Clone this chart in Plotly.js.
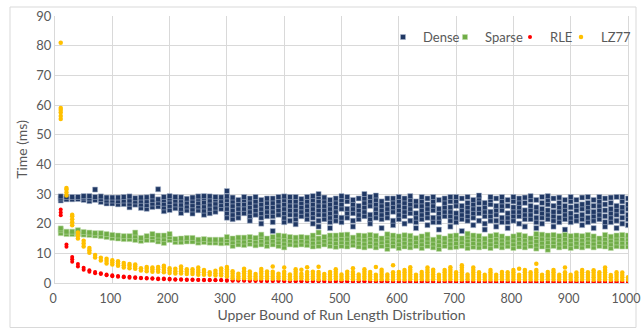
<!DOCTYPE html>
<html>
<head>
<meta charset="utf-8">
<script src="https://cdn.plot.ly/plotly-3.0.1.min.js"></script>
<style>html,body{margin:0;padding:0;background:#fff;}#chart{width:641px;height:329px;}</style>
</head>
<body>
<div id="chart"></div>
<script>
const xs = [10,20,30,40,50,60,70,80,90,100,110,120,130,140,150,160,170,180,190,200,210,220,230,240,250,260,270,280,290,300,310,320,330,340,350,360,370,380,390,400,410,420,430,440,450,460,470,480,490,500,510,520,530,540,550,560,570,580,590,600,610,620,630,640,650,660,670,680,690,700,710,720,730,740,750,760,770,780,790,800,810,820,830,840,850,860,870,880,890,900,910,920,930,940,950,960,970,980,990,1000];

const dense = [
[27.8,28.5,29.2],[28.2,29],[28.2,29],[28.3,29],[28,28.8,29.3],[27.6,28.5,29.3],[28,29,31.5],[27.3,28.3,29.2],[26.8,27.8,28.8],[26.8,27.8,28.8],
[26.5,27.6,28.8],[26.6,27.8,29],[25.5,26.7,27.8,29.2],[26.4,27.5,28.6],[25.3,26.5,27.7,28.8],[25,26.3,27.6,28.9],[25.6,26.8,28,29.2],[25.8,27,28.2,31.6],[24.2,25.5,26.7,28,29],[24.6,26,27.3,28.5,29.3],
[25.2,26.5,27.8,29],[23.6,25,26.4,27.8,28.9],[24.5,25.8,27.1,28.4],[23.4,24.8,26.2,27.6,28.8],[24.5,25.8,27,28.4,29.2],[23,24.4,25.8,27.2,28.7,29.3],[23.5,25,26.4,27.8,29.2],[24,25.4,26.8,28.2,29],[25,26.3,27.6,28.9],[22,23.5,25,26.5,28,29.2,31],
[21.5,23,24.5,26,27.5,28.8],[22,23.5,25,26.5,28],[23.5,25,26.5,28,29],[21,22.5,24,25.5,27,28.5],[23,24.5,26,27.5,29],[20,22,23.5,25,26.5,28],[22.5,24,25.5,27,28.5],[17.5,20.5,22.5,24,25.5,27,28.5],[23,24.5,26,27.5,29],[20.5,22,23.5,25,26.5,28,29.2],
[21,23,24.5,26,27.5,29],[19.8,21.5,23,24.5,26,27.5,29],[22.5,24,25.5,27,28.3],[21.5,23,24.5,26,27.5,29],[20,22,23.5,25,26.5,28,29.3],[19,21,23,24.5,26,27.5,29,30],[21.5,23,24.5,26,27.5,28.8],[18.5,20.5,22,23.5,25,26.5,28],[21,22.5,24,25.5,27,28.5],[20.5,22,25,26.5,28,29.3],
[22,23.5,25,27.5,29],[19,21,23.5,25,26.5,28],[21.5,23,24.5,26,28.5],[22.5,24,25.5,27,28.5,30],[20,21.5,23,26,27.5,29],[22,23.5,25,26.5,28,29.5],[18.5,21.5,23,24.5,26,27.5],[22,23.5,25,26.5,28.5],[19.5,21,24,25.5,27,28.5],[21.5,23,24.5,26,27.5,29],
[20,22.5,24,25.5,27,28.5],[21,23.5,25,26.5,28,29.3],[18.5,20.5,22,23.5,26,27.5],[21.5,23,24.5,26,27.5,29],[19.5,22,23.5,25,26.5,28.5],[20.5,22,24.5,26,27.5,29],[18,20.5,22,23.5,25,28],[22.5,24,25.5,27,28.5],[19,21,22.5,24,25.5,27.5,29],[20.5,22,23.5,26,27.5,29],
[17.5,21.5,23,24.5,26,28.5],[21,22.5,24,25.5,27,29],[19.5,22,23.5,25,26.5,28],[21,23.5,25,27,28.5,29.5],[18,20,22.5,24,25.5,27],[21,22.5,24,26.5,28,29],[19,21,23,24.5,26,28.5],[20.5,22,24.5,26,27.5,29],[18.5,20.5,22,23.5,26,28],[21,22.5,24,25.5,27.5,29],
[20,22.5,24,25.5,27,28.5],[19,21.5,23,24.5,27,28.8],[21.5,23,24.5,26,28,29.3],[18.5,20.5,22,24,25.5,28],[20,22,23.5,25,27,29],[21.5,23,24.5,26.5,28,29.3],[19,21,22.5,24,26,28.5],[20.5,22,24,25.5,27,28.8],[18,21.5,23,24.5,26,28],[20.5,22,23.5,25.5,27.5,29],
[21,22.5,24.5,26,28],[19.5,21.5,23,25,26.5,28.8],[20.5,22,24,25.5,27,29],[18.5,21,22.5,24,26,28],[21.5,23,24.5,26,27.5,29],[19,20.5,22.5,24.5,26.5,28.5],[20.5,22,23.5,25,27,28.8],[18.5,21,23,24.5,26,29],[20,22,24,25.5,27.5,29],[19.5,21.5,23,25,26.5,28.5]
];

const sparse = [
[16.8,17.8,18.4],[16.5,17.3],[16.5,17.3],[16.5,17.3,17.8],[16.3,17.2],[16.2,17],[16,16.8],[15.8,16.8],[15.5,16.5],[15.2,16.2],
[15,16],[14.8,15.8],[14.8,15.8],[14.5,15.8,17],[14.2,15.2],[14.5,15.8],[14.5,15.5,16.5],[14,15,16],[13.5,14.8,16],[14.5,15.5,16.5],
[13.8,14.8],[13.8,15],[14,15.2],[14,15.2],[13.6,14.6],[13.8,14.8],[13.6,14.6],[13.6,14.6],[13.4,14.6],[13.5,14.5,15.5],
[12.5,13.8,15],[13,14.3,15.3],[12.8,14,15.3],[13.2,14.5,15.5],[12.7,14,15.2],[13,14.3,15.5,16.3],[12.5,13.8,15],[13,14.3,15.5],[12.5,13.8,15,16],[12,13.3,14.6,15.8],
[13,14.3,15.5],[12.8,14,15.3],[13,14.3,15.5],[12.8,14,15.3],[12.3,13.6,14.9,16],[12.5,13.8,15,17],[13,14.3,15.5],[12.5,13.8,15,16],[12.2,13.5,14.8,16],[12.5,13.8,15,16.2],
[12.3,13.6,14.9,16.3],[12.8,14,15.3],[12.3,13.6,14.9,16],[12,13.3,14.6,15.9],[12.5,13.8,15,16.2],[12,13.3,14.6,15.9],[12.5,13.8,15],[11.5,12.8,14.1,15.4,16.4],[12.5,13.8,15,16],[11.8,13.1,14.4,15.7],
[12.3,13.6,14.9,16.1],[12,13.3,14.6,15.9],[12.5,13.8,15.1],[11.8,13.1,14.4,15.7],[12.5,13.8,15,16.3],[12,13.3,14.6],[11.5,12.8,14.1,15.4],[12.5,13.8,15],[12,13.3,14.6,15.8],[12.2,13.5,14.8,16],
[12.5,13.8,15],[11.8,13.1,14.4,15.6,16.6],[12.2,13.5,14.8,16],[12,13.3,14.6,15.8],[12.3,13.6,14.9],[11.8,13.1,14.4,15.8],[12.5,13.8,15,16.2],[12,13.3,14.6,15.7],[12.4,13.7,15],[11.8,13.1,14.4,15.7],
[12.3,13.6,14.9,16.2],[12,13.3,14.6,15.8],[12.5,13.8,15],[11.6,12.9,14.2,15.5,16.5],[12.3,13.6,14.9,16.3],[11.2,12.5,13.8,15.1,16],[12.5,13.8,15,16.2],[12,13.3,14.6,15.8],[12.3,13.6,14.9,16.2],[11.8,13.1,14.4,15.8],
[12.3,13.6,14.9,16],[12,13.3,14.6,15.8],[12.5,13.8,15,16.2],[12,13.3,14.6,15.7],[12.5,13.8,15],[12.3,13.6,14.9,16.2],[11.8,13.1,14.4,15.6],[12.4,13.7,15,16],[12.3,13.6,14.9,16.2],[12.3,13.6,14.9,16]
];

const rle = [
[22.8,23.8,24.8],[12.2,13],[7.2,8,8.8],[5.6,6.4],[4.5,5.1],[3.8,4.3],[3.3,3.7],[3,3.3],[2.6,2.9],[2.3,2.6],
[2.1,2.4],[1.9,2.2],[1.8,2.1],[1.7,1.9],[1.6,1.8],[1.5,1.7],[1.4,1.6],[1.3,1.5],[1.3,1.5],[1.2,1.4],
[1.1,1.3],[1.1,1.3],[1,1.2],[1,1.2],[1,1.1],[0.9,1.1],[0.9,1.1],[0.9,1],[0.9,1],[0.8,1],
[0.8,0.9],[0.8,0.9],[0.8,0.9],[0.7,0.9],[0.7,0.9],[0.7,0.8],[0.7,0.8],[0.7,0.8],[0.7,0.8],[0.6,0.8],
[0.6,0.8],[0.6,0.7],[0.6,0.7],[0.6,0.7],[0.6,0.7],[0.6,0.7],[0.5,0.7],[0.5,0.7],[0.5,0.7],[0.5,0.6],
[0.5,0.6],[0.5,0.6],[0.5,0.6],[0.5,0.6],[0.5,0.6],[0.5,0.6],[0.4,0.6],[0.4,0.6],[0.4,0.6],[0.4,0.5],
[0.4,0.5],[0.4,0.5],[0.4,0.5],[0.4,0.5],[0.4,0.5],[0.4,0.5],[0.4,0.5],[0.4,0.5],[0.4,0.5],[0.4,0.5],
[0.4,0.5],[0.3,0.5],[0.3,0.5],[0.3,0.5],[0.3,0.5],[0.3,0.5],[0.3,0.4],[0.3,0.4],[0.3,0.4],[0.3,0.4],
[0.3,0.4],[0.3,0.4],[0.3,0.4],[0.3,0.4],[0.3,0.4],[0.3,0.4],[0.3,0.4],[0.3,0.4],[0.3,0.4],[0.3,0.4],
[0.3,0.4],[0.3,0.4],[0.3,0.4],[0.3,0.4],[0.3,0.4],[0.3,0.4],[0.3,0.4],[0.3,0.4],[0.3,0.4],[0.3,0.4]
];

const lz77 = [
[81,55.3,56.3,57.5,58.3,59],[29.5,30.5,31.5,32],[19.5,20.5,21.5,22.5,23],[15,16,17],[12.3,13.3,14.2],[10.2,11,11.8],[8.6,9.4],[7.6,8.5],[6.6,7.4,8.2],[6.2,7,7.7],
[5.8,6.6,7.3],[5.2,6,6.7],[5,5.8,6.4],[4.8,5.6,6.2],[4.2,5],[4,4.8,5.4],[3.8,4.6,5.2],[3.8,4.6,5.4],[3.6,4.4,5.2,5.8],[3.4,4.2,5],
[3.2,4,4.8],[3.2,4,4.8,5.6],[3,3.8,4.6],[3,3.8,4.6],[2.8,3.6,4.4,5.2],[2.8,3.6,4.4],[2.8,3.6],[2.5,3.3,4.1],[2.5,3.3,4.1,4.9],[2.2,3,3.8,4.6,5.4],
[1.6,2.4,3.2,4],[1.5,2.3,3.1],[1.6,2.4,3.2,4,4.8],[1.5,2.3,3.1,3.9],[1.4,2.2,3],[1.5,2.3,3.1,3.9,4.7],[1.5,2.3,3.1,3.9],[1.4,2.2,3,3.8,5.6],[1.5,2.3,3.1],[1.4,2.2,3,3.8,5.2],
[1.3,2.1,2.9],[1.4,2.2,3,3.8,4.6],[1.5,2.3,3.1,4.5],[1.3,2.1,2.9,3.7,5.3],[1.4,2.2,3,3.8],[1.3,2.1,2.9,3.7,5.5],[1.4,2.2,3],[1.3,2.1,2.9,3.7],[1.4,2.2,3,3.8,4.6],[1.3,2.1,2.9],
[1.4,2.2,3,3.8],[1.3,2.1,2.9,3.7,5],[1.3,2.1,2.9],[1.4,2.2,3,3.8,4.6],[1.3,2.1,2.9,3.7],[1.2,2,2.8,5.4],[1.3,2.1,2.9,3.7,4.5],[1.3,2.1,2.9],[1.2,2,2.8,3.6,6],[1.3,2.1,2.9,3.7],
[1.2,2,2.8,3.6,4.4],[1.3,2.1,2.9,3.7,4.5,5.3],[1.2,2,2.8],[1.3,2.1,2.9,3.7],[1.2,2,2.8,3.6,4.4,5.2],[1.3,2.1,2.9,3.7,4.5],[1.2,2,2.8],[1.2,2,2.8,3.6,4.4],[1.3,2.1,2.9,3.7,4.5,5.3],[1.2,2,2.8,3.6],
[1.2,2,2.8,3.6,4.4,5.2,6],[1.3,2.1,2.9],[1.2,2,2.8,3.6,4.4,5.2],[1.2,2,2.8,3.6],[1.2,2,2.8],[1.2,2,2.8,3.6,4.4],[1.2,2,2.8],[1.3,2.1,2.9,3.7],[1.2,2,2.8,3.6],[1.2,2,2.8,3.6,4.4],
[1.2,2,2.8,4.8],[1.2,2,2.8,3.6,4.4],[1.2,2,2.8,3.6],[1.2,2,2.8,3.6,4.4,6.5],[1.2,2,2.8],[1.3,2.1,2.9,3.7],[1.2,2,2.8,3.6,4.4],[1.2,2,2.8],[1.2,2,2.8,3.6,5.2],[1.2,2,2.8],
[1.1,1.9,2.7,3.5],[1.2,2,2.8,3.6,4.4],[1.2,2,2.8,3.6],[1.1,1.9,2.7,3.5,4.3],[1.2,2,2.8,3.6],[1.2,2,2.8,3.6,4.4,5.2],[1.1,1.9,2.7],[1.2,2,2.8,3.6],[1.1,1.9,2.7,3.5],[1.1,1.9]
];

const seriesNames = ['Dense','Sparse','RLE','LZ77'];
const seriesColors = ['#203864','#70ad47','#ff0000','#ffc000'];

function flatten(vals){
  const x=[], y=[];
  vals.forEach((col,i)=>col.forEach(v=>{x.push(xs[i]); y.push(v);}));
  return {x,y};
}

const font = 'Lato, "Open Sans", sans-serif';
const d = flatten(dense), s = flatten(sparse), r = flatten(rle), l = flatten(lz77);

const traces = [
  {type:'scatter',mode:'markers',name:seriesNames[0],x:d.x,y:d.y,legend:'legend',
   marker:{symbol:'square',size:5,color:seriesColors[0],line:{width:0.6,color:'rgba(170,182,205,0.9)'}}},
  {type:'scatter',mode:'markers',name:seriesNames[1],x:s.x,y:s.y,legend:'legend2',
   marker:{symbol:'square',size:5,color:seriesColors[1],line:{width:0.6,color:'rgba(190,220,170,0.9)'}}},
  {type:'scatter',mode:'markers',name:seriesNames[2],x:r.x,y:r.y,legend:'legend3',
   marker:{symbol:'circle',size:4,color:seriesColors[2],line:{width:0}}},
  {type:'scatter',mode:'markers',name:seriesNames[3],x:l.x,y:l.y,legend:'legend4',
   marker:{symbol:'circle',size:4.5,color:seriesColors[3],line:{width:0}}}
];

function leg(px){
  return {orientation:'h',x:(px-55)/573,xanchor:'left',y:0.921,yanchor:'middle',
    font:{family:font,size:13,color:'#595959'},bgcolor:'rgba(255,255,255,0)',itemwidth:30};
}

const layout = {
  width:641, height:329,
  margin:{l:55,r:13,t:16,b:46,autoexpand:false},
  paper_bgcolor:'#ffffff', plot_bgcolor:'#ffffff',
  font:{family:font,size:13,color:'#595959'},
  showlegend:true,
  legend:leg(383), legend2:leg(445), legend3:leg(510), legend4:leg(561),
  xaxis:{range:[0,1000],dtick:100,tick0:0,showgrid:true,gridcolor:'#d9d9d9',gridwidth:1,
    zeroline:false,showline:true,linecolor:'#d9d9d9',linewidth:1,
    ticks:'outside',ticklen:4,tickcolor:'rgba(0,0,0,0)',ticklabeloverflow:'allow',ticklabelshift:-2,
    tickfont:{family:font,size:12.5,color:'#595959'},
    title:{text:'Upper Bound of Run Length Distribution',font:{family:font,size:14,color:'#595959'},standoff:4}},
  yaxis:{range:[0,90],dtick:10,tick0:0,showgrid:true,gridcolor:'#d9d9d9',gridwidth:1,
    zeroline:false,showline:true,linecolor:'#d9d9d9',linewidth:1,ticks:'',mirror:true,
    tickfont:{family:font,size:13,color:'#595959'},
    title:{text:'Time (ms)',font:{family:font,size:14,color:'#595959'},standoff:5}},
  shapes:[{type:'rect',xref:'paper',yref:'paper',
    x0:-45/573, x1:(636-55)/573, y0:(283-327.5)/267, y1:(283-7)/267,
    line:{color:'#d9d9d9',width:1},fillcolor:'rgba(0,0,0,0)',layer:'below'}]
};

Plotly.newPlot('chart',traces,layout,{displayModeBar:false,staticPlot:true});
</script>
</body>
</html>
